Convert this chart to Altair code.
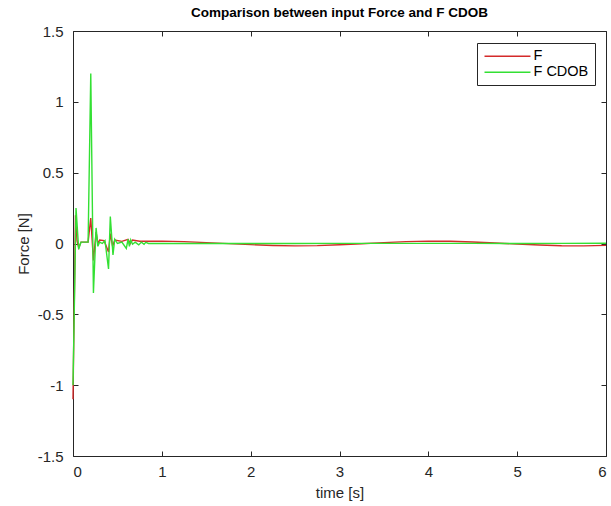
import altair as alt
import pandas as pd

# ---- data ----
t_f = [0.0, 0.004, 0.028, 0.045, 0.064, 0.09, 0.17, 0.20, 0.23, 0.26, 0.28, 0.30, 0.35,
       0.40, 0.42, 0.446, 0.47, 0.55, 0.62, 0.645, 0.67, 0.75, 1.0, 1.25, 1.5, 1.75,
       2.0, 2.25, 2.5, 2.75, 3.0, 3.25, 3.5, 3.75, 4.0, 4.25, 4.5, 4.75, 5.0, 5.25,
       5.5, 5.75, 6.0]
v_f = [-1.10, -0.90, 0.20, 0.02, -0.03, 0.01, 0.01, 0.18, -0.12, 0.08, 0.0, 0.025, 0.02,
       -0.06, 0.07, -0.02, 0.025, 0.015, 0.03, 0.0, 0.025, 0.016, 0.017, 0.013, 0.006, -0.001,
       -0.008, -0.014, -0.017, -0.015, -0.009, -0.002, 0.006, 0.013, 0.017, 0.016, 0.011, 0.004, -0.004, -0.011,
       -0.016, -0.017, -0.013]

t_cdob = [0.0, 0.034, 0.064, 0.09, 0.17, 0.20, 0.23, 0.26, 0.28, 0.30, 0.33, 0.36,
          0.40, 0.42, 0.45, 0.47, 0.50, 0.55, 0.60, 0.62, 0.635, 0.65, 0.67, 0.70,
          0.74, 0.77, 0.80, 0.82, 0.85, 1.0, 1.5, 2.0, 2.5, 3.0, 3.5, 4.0, 4.5, 5.0,
          5.5, 6.0]
v_cdob = [-1.0, 0.25, -0.04, 0.01, 0.01, 1.20, -0.35, 0.11, -0.02, 0.01, 0.0, 0.02,
          -0.18, 0.19, -0.08, 0.03, 0.0, 0.01, -0.035, 0.03, -0.02, 0.025, -0.005, 0.01,
          -0.01, 0.01, -0.005, 0.008, 0.0, 0.0, 0.0, 0.0, 0.0, 0.001, 0.001, 0.001, 0.001, 0.0,
          0.001, 0.002]

series_names = ["F", "F CDOB"]
series_colors = ["#d42a2a", "#33e033"]
x_ticks = [0, 1, 2, 3, 4, 5, 6]
y_ticks = [-1.5, -1.0, -0.5, 0.0, 0.5, 1.0, 1.5]

df = pd.concat([
    pd.DataFrame({"t": t_f, "v": v_f, "s": series_names[0], "o": 0}),
    pd.DataFrame({"t": t_cdob, "v": v_cdob, "s": series_names[1], "o": 1}),
], ignore_index=True)

FONT = "Liberation Sans"
AX = "#262626"

xs = alt.Scale(domain=[0, 6], nice=False, zero=False)
ys = alt.Scale(domain=[-1.5, 1.5], nice=False, zero=False)

lines = alt.Chart(df).mark_line(strokeWidth=1.4).encode(
    x=alt.X("t:Q", scale=xs, title="time [s]",
            axis=alt.Axis(orient="bottom", values=x_ticks, offset=-5, tickSize=5,
                          domain=False, grid=False, labelPadding=8, titlePadding=6,
                          labelExpr="datum.value + ''")),
    y=alt.Y("v:Q", scale=ys, title="Force [N]",
            axis=alt.Axis(orient="left", values=y_ticks, offset=-5, tickSize=5,
                          domain=False, grid=False, labelPadding=10, titlePadding=6,
                          labelExpr="datum.value + ''")),
    color=alt.Color("s:N", scale=alt.Scale(domain=series_names, range=series_colors),
                    title=None,
                    legend=alt.Legend(orient="none", legendX=404, legendY=12,
                                      symbolType="M-1,0H7", symbolSize=132,
                                      symbolStrokeWidth=1.3, labelOffset=36,
                                      padding=6, rowPadding=1,
                                      strokeColor=AX, fillColor="white",
                                      labelFontSize=14.5, labelFont=FONT,
                                      labelColor="black")),
    order=alt.Order("o:Q"),
    detail="s:N",
)

ticks2 = alt.Chart(df).mark_line(opacity=0).encode(
    x=alt.X("t:Q", scale=xs, title=None,
            axis=alt.Axis(orient="top", values=x_ticks, offset=-5, tickSize=5,
                          domain=False, grid=False, labels=False)),
    y=alt.Y("v:Q", scale=ys, title=None,
            axis=alt.Axis(orient="right", values=y_ticks, offset=-5, tickSize=5,
                          domain=False, grid=False, labels=False)),
    detail="s:N",
)

chart = alt.layer(lines, ticks2).resolve_axis(x="independent", y="independent").properties(
    width=533, height=425,
    background="white",
    autosize=alt.AutoSizeParams(type="none"),
    padding={"left": 73, "top": 31, "right": 5, "bottom": 50},
    title=alt.Title("Comparison between input Force and F CDOB", font=FONT, fontSize=13.5,
                    fontWeight="bold", color="black", anchor="middle", offset=5),
).configure_view(stroke=AX, strokeWidth=1).configure_axis(
    labelFont=FONT, titleFont=FONT, labelFontSize=15, titleFontSize=15,
    labelColor=AX, titleColor=AX, tickColor=AX, titleFontWeight="normal",
    tickWidth=1,
)

chart.save("out.html", embed_options={"renderer": "svg", "actions": False})
